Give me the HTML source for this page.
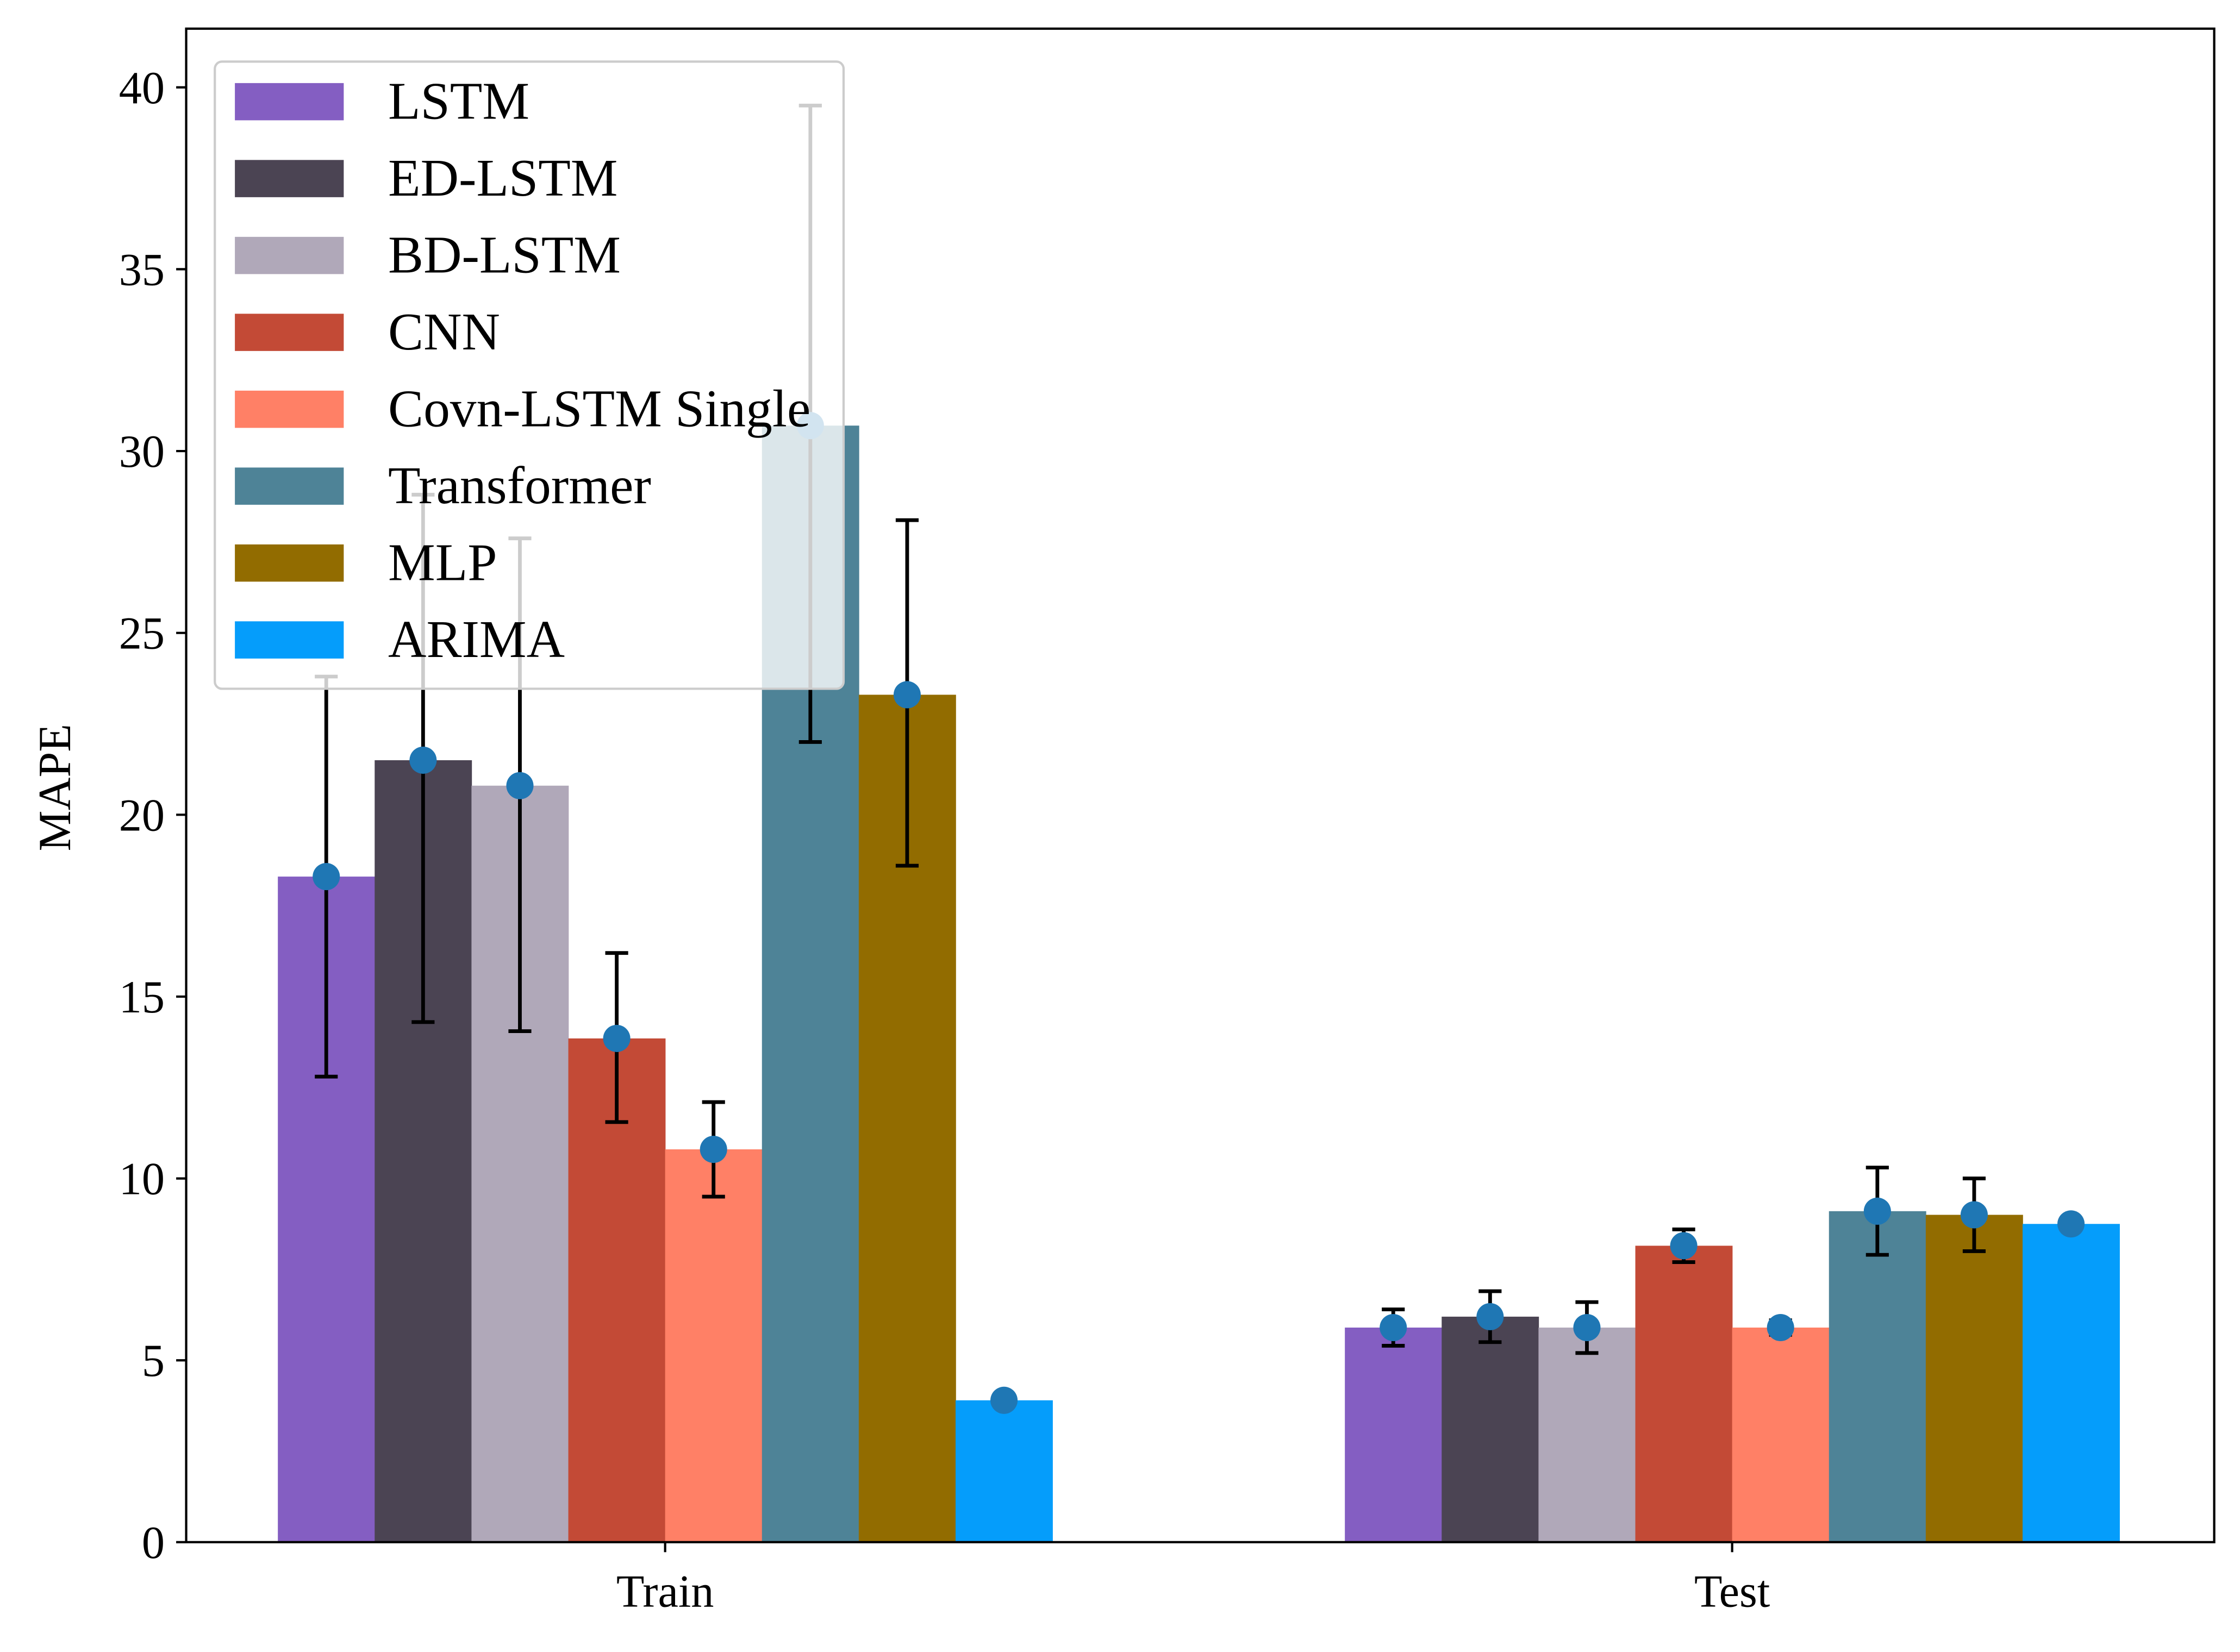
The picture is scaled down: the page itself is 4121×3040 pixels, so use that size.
<!DOCTYPE html>
<html><head><meta charset="utf-8"><style>
html,body{margin:0;padding:0;background:#fff;}
svg{display:block;}
text{font-family:"Liberation Serif",serif;fill:#000;}
</style></head><body>
<svg id="chart" width="4121" height="3040" viewBox="0 0 1564 1153.7" xmlns="http://www.w3.org/2000/svg">
<rect x="0" y="0" width="1564" height="1154" fill="#fff"/>
<g id="plot"></g>
</svg>
<script>
const groups = ["Train", "Test"];
const models = ["LSTM","ED-LSTM","BD-LSTM","CNN","Covn-LSTM Single","Transformer","MLP","ARIMA"];
const colors = ["#845EC2","#4B4453","#B0A8B9","#C34A36","#FF8066","#4E8397","#926C00","#059DFB"];
const trainValues = [18.3, 21.5, 20.8, 13.85, 10.8, 30.7, 23.3, 3.9];
const testValues = [5.9, 6.2, 5.9, 8.15, 5.9, 9.1, 9.0, 8.75];
const trainLow = [12.8, 14.3, 14.05, 11.55, 9.5, 22.0, 18.6, null];
const trainHigh = [23.8, 28.8, 27.6, 16.2, 12.1, 39.5, 28.1, null];
const testLow = [5.4, 5.5, 5.2, 7.7, 5.7, 7.9, 8.0, null];
const testHigh = [6.4, 6.9, 6.6, 8.6, 6.1, 10.3, 10.0, null];
const yTicks = [0,5,10,15,20,25,30,35,40];

const NS="http://www.w3.org/2000/svg";
const g=document.getElementById('plot');
function mk(tag,attrs,parent){const e=document.createElementNS(NS,tag);for(const k in attrs)e.setAttribute(k,attrs[k]);(parent||g).appendChild(e);return e;}
const L=130,R=1546,T=20,B=1077;
const y=v=>B-(v/40)*(B-61);
const barW=67.6;
const groupStart=[194,939];
const x=(gi,mi)=>groupStart[gi]+mi*barW;
const vals=[trainValues,testValues], lows=[trainLow,testLow], highs=[trainHigh,testHigh];

for(let gi=0;gi<2;gi++)for(let mi=0;mi<models.length;mi++){
  const v=vals[gi][mi];
  const r=mk('rect',{x:x(gi,mi),y:y(v),width:barW+0.3,height:B-y(v),fill:colors[mi]});
  
  
}
for(let gi=0;gi<2;gi++)for(let mi=0;mi<models.length;mi++){
  if(lows[gi][mi]==null)continue;
  const cx=x(gi,mi)+barW/2;
  const eg=mk('g',{stroke:'#000','stroke-width':2.6});
  
  
  mk('line',{x1:cx,x2:cx,y1:y(lows[gi][mi]),y2:y(highs[gi][mi])},eg);
  mk('line',{x1:cx-8,x2:cx+8,y1:y(lows[gi][mi]),y2:y(lows[gi][mi])},eg);
  mk('line',{x1:cx-8,x2:cx+8,y1:y(highs[gi][mi]),y2:y(highs[gi][mi])},eg);
}
for(let gi=0;gi<2;gi++)for(let mi=0;mi<models.length;mi++){
  const c=mk('circle',{cx:x(gi,mi)+barW/2,cy:y(vals[gi][mi]),r:9.5,fill:'#1f77b4'});
  
  
}
const fr=mk('rect',{x:L,y:T,width:R-L,height:B-T,fill:'none',stroke:'#000','stroke-width':1.6});


yTicks.forEach(t=>{
  mk('line',{x1:L-7,x2:L,y1:y(t),y2:y(t),stroke:'#000','stroke-width':1.6});
  const tx=mk('text',{x:L-15,y:y(t)+11,'text-anchor':'end','font-size':32});
  tx.textContent=t;
  
  
});
groups.forEach((gname,gi)=>{
  const cx=groupStart[gi]+barW*4;
  mk('line',{x1:cx,x2:cx,y1:B,y2:B+7,stroke:'#000','stroke-width':1.6});
  const tx=mk('text',{x:cx,y:B+45,'text-anchor':'middle','font-size':32});
  tx.textContent=gname;
  
  
});
const yl=mk('text',{x:0,y:0,'text-anchor':'middle','font-size':32,transform:'translate(49,550) rotate(-90)'});
yl.textContent='MAPE';


const lg=mk('g',{});


mk('rect',{x:150,y:43,width:439,height:438,rx:5,fill:'#fff','fill-opacity':0.8,stroke:'#ccc','stroke-width':1.6},lg);
models.forEach((m,mi)=>{
  const cy=71+mi*53.7;
  const e=mk('g',{},lg);
  
  
  mk('rect',{x:164,y:cy-13,width:76,height:26,fill:colors[mi]},e);
  const t=mk('text',{x:271,y:cy+12,'font-size':37},e);
  t.textContent=m;
});
</script>
</body></html>
